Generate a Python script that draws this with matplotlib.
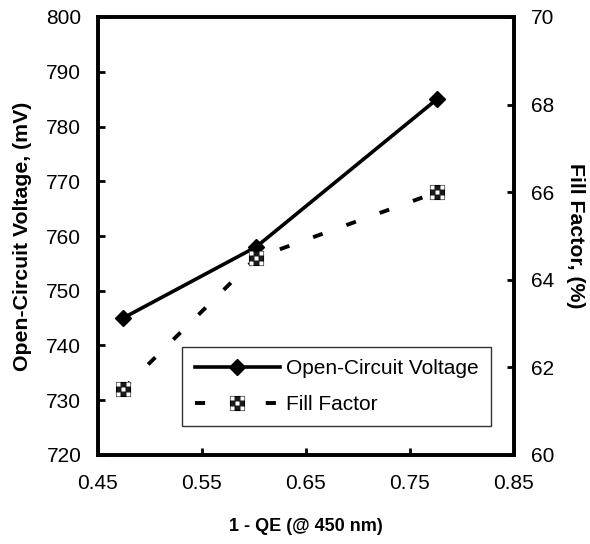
import matplotlib
matplotlib.use("Agg")
import matplotlib.pyplot as plt
from matplotlib.path import Path
from matplotlib.legend_handler import HandlerTuple
import numpy as np

plt.rcParams['font.family'] = ['Liberation Sans', 'DejaVu Sans']

x_qe = [0.474, 0.602, 0.776]
voc = [745, 758, 785]
ff = [61.5, 64.5, 66.0]
xticks = [0.45, 0.55, 0.65, 0.75, 0.85]
yticks_left = [720, 730, 740, 750, 760, 770, 780, 790, 800]
yticks_right = [60, 62, 64, 66, 68, 70]

fig = plt.figure(figsize=(5.9, 5.44), dpi=100)
ax = fig.add_axes([98/590, 1-455/544, 416/590, 438/544])
ax2 = ax.twinx()

# dotted-square marker overlay path (white dots)
dots = []
codes = []
for (cx, cy) in [(-0.25, -0.25), (0.25, -0.25), (0, 0), (-0.25, 0.25), (0.25, 0.25)]:
    s = 0.09
    dots += [(cx-s, cy-s), (cx+s, cy-s), (cx+s, cy+s), (cx-s, cy+s), (cx-s, cy-s)]
    codes += [Path.MOVETO, Path.LINETO, Path.LINETO, Path.LINETO, Path.CLOSEPOLY]
dot_path = Path(dots, codes)

l1, = ax.plot(x_qe, voc, color='black', lw=2.6, marker='D', ms=8,
              mfc='black', mec='black', label='Open-Circuit Voltage', zorder=3)
l2, = ax2.plot(x_qe, ff, color='black', lw=2.8, linestyle=(0, (2.6, 6.5)),
               marker='s', ms=9.5, mfc='#1a1a1a', mec='black', mew=0.8,
               label='Fill Factor', zorder=3)
l3, = ax2.plot(x_qe, ff, linestyle='none', marker=dot_path, ms=9.5, mfc='white',
               mec='none', zorder=4)

ax.set_xlim(0.45, 0.85)
ax.set_ylim(720, 800)
ax2.set_ylim(60, 70)
ax.set_xticks(xticks)
ax.set_xticklabels([f"{v:.2f}" for v in xticks])
ax.set_yticks(yticks_left)
ax2.set_yticks(yticks_right)

for a in (ax, ax2):
    for sp in a.spines.values():
        sp.set_linewidth(2.6)
        sp.set_color('black')

ax.tick_params(axis='x', direction='in', length=5, width=2, labelsize=15, pad=14)
ax.tick_params(axis='y', direction='in', length=5, width=2, labelsize=15, pad=12)
ax2.tick_params(axis='y', direction='in', length=5, width=2, labelsize=15, pad=12)

ax.set_xlabel('1 - QE (@ 450 nm)', fontsize=13, fontweight='bold', labelpad=18)
ax.set_ylabel('Open-Circuit Voltage, (mV)', fontsize=15.3, fontweight='bold', labelpad=10)
ax2.set_ylabel('Fill Factor, (%)', fontsize=15.3, fontweight='bold', labelpad=22,
               rotation=-90)

leg = ax2.legend(handles=[l1, (l2, l3)], labels=['Open-Circuit Voltage', 'Fill Factor'],
                 handler_map={tuple: HandlerTuple(ndivide=1, pad=0)},
                 loc='upper left',
                 bbox_to_anchor=(0.202, 0.247), borderaxespad=0,
                 fontsize=15, handlelength=4.1, handletextpad=0.3,
                 fancybox=False, framealpha=1, edgecolor='#333333',
                 borderpad=0.6, labelspacing=0.8)
leg.get_frame().set_linewidth(1.0)

fig.savefig('out.png', dpi=100)
